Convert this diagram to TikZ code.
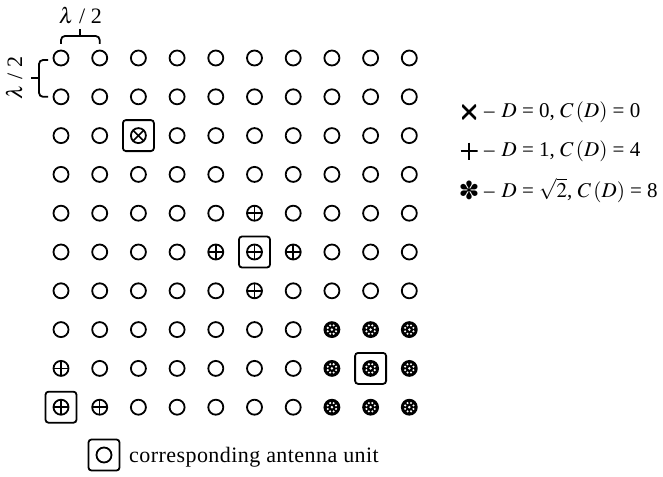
\documentclass[tikz,border=0pt]{standalone}
\usepackage{mathptmx}
\usepackage[no-math]{fontspec}
\setmainfont{Liberation Serif}
\newfontfamily\djv{DejaVu Sans}
\usetikzlibrary{calc}
\expandafter\def\csname ut@2-2\endcsname{crossu}
\expandafter\def\csname ut@5-4\endcsname{plusu}
\expandafter\def\csname ut@4-5\endcsname{plusu}
\expandafter\def\csname ut@5-5\endcsname{plusu}
\expandafter\def\csname ut@6-5\endcsname{plusu}
\expandafter\def\csname ut@5-6\endcsname{plusu}
\expandafter\def\csname ut@0-8\endcsname{plusu}
\expandafter\def\csname ut@0-9\endcsname{plusu}
\expandafter\def\csname ut@1-9\endcsname{plusu}
\expandafter\def\csname ut@7-7\endcsname{staru}
\expandafter\def\csname ut@8-7\endcsname{staru}
\expandafter\def\csname ut@9-7\endcsname{staru}
\expandafter\def\csname ut@7-8\endcsname{staru}
\expandafter\def\csname ut@8-8\endcsname{staru}
\expandafter\def\csname ut@9-8\endcsname{staru}
\expandafter\def\csname ut@7-9\endcsname{staru}
\expandafter\def\csname ut@8-9\endcsname{staru}
\expandafter\def\csname ut@9-9\endcsname{staru}
\tikzset{
  every node/.style={font=\fontsize{22}{26}\selectfont, inner sep=0pt},
  unit/.style={circle, draw, line width=1.8pt, minimum size=15pt, inner sep=0pt},
  plusu/.style={unit, path picture={\draw[line width=1.5pt]
      (path picture bounding box.north) -- (path picture bounding box.south)
      (path picture bounding box.west) -- (path picture bounding box.east);}},
  crossu/.style={unit, path picture={\draw[line width=1.5pt]
      (path picture bounding box.north west) -- (path picture bounding box.south east)
      (path picture bounding box.north east) -- (path picture bounding box.south west);}},
  staru/.style={unit, fill=black, path picture={
      \foreach \a in {0,45,...,315}{\fill[white] ([shift={(\a+22.5:4.5pt)}]path picture bounding box.center) circle (1.15pt);}
      \fill[white] (path picture bounding box.center) circle (1.4pt);}},
  selbox/.style={draw, line width=1.8pt, rounded corners=3pt, minimum size=31pt, inner sep=0pt},
  brk/.style={line width=1.8pt, rounded corners=4pt},
  legx/.style={minimum size=14pt, inner sep=0pt, path picture={\draw[line width=2.6pt]
      (path picture bounding box.north west) -- (path picture bounding box.south east)
      (path picture bounding box.north east) -- (path picture bounding box.south west);}},
  legp/.style={minimum size=17pt, inner sep=0pt, path picture={\draw[line width=2.6pt]
      (path picture bounding box.north) -- (path picture bounding box.south)
      (path picture bounding box.west) -- (path picture bounding box.east);}},
  legtxt/.style={anchor=west, font=\fontsize{21}{25}\selectfont},
}
\begin{document}
\begin{tikzpicture}[x=1pt,y=-1pt]
\useasboundingbox (0,0) rectangle (663,476);
% grid of antenna units
\foreach \j in {0,...,9}{
  \foreach \i in {0,...,9}{
    \ifcsname ut@\i-\j\endcsname \edef\ty{\csname ut@\i-\j\endcsname}\else\def\ty{unit}\fi
    \begingroup\edef\x{\endgroup\noexpand\node[\ty]}\x (u-\i-\j) at ({61+38.7*\i},{58+38.8*\j}) {};
  }
}
% selected units
\node[selbox] (b1) at (u-2-2) {};
\node[selbox] (b2) at (u-5-5) {};
\node[selbox] (b3) at (u-8-8) {};
\node[selbox] (b4) at (u-0-9) {};
% top bracket
\draw[brk] ($(u-0-0)+(0,-14)$) -- ($(u-0-0)+(0,-22)$) -- ($(u-1-0)+(0,-22)$) -- ($(u-1-0)+(0,-14)$);
\coordinate (tb) at ($(u-0-0)!0.5!(u-1-0)+(0,-22)$);
\draw[line width=1.8pt] (tb) -- ($(tb)+(0,-7)$);
\node (lt) at ($(tb)+(0,-21)$) {$\lambda$ / 2};
% left bracket
\draw[brk] ($(u-0-0)+(-13,2)$) -- ($(u-0-0)+(-22,2)$) -- ($(u-0-1)+(-22,0)$) -- ($(u-0-1)+(-13,0)$);
\coordinate (lb) at ($(u-0-0)!0.5!(u-0-1)+(-22,1)$);
\draw[line width=1.8pt] (lb) -- ($(lb)+(-8,0)$);
\node[rotate=90] (ll) at ($(lb)+(-25,0)$) {$\lambda$ / 2};
% legend right
\node[legx] (sx) at (469,112) {};
\node[legtxt] (tx) at (484,112) {–\,\,$D$ = 0, $C\,(D)$ = 0};
\node[legp] (sp) at (469,151) {};
\node[legtxt] (tp) at (484,151) {–\,\,$D$ = 1, $C\,(D)$ = 4};
\node (ss) at (469,190) {\djv\fontsize{25}{28}\selectfont ✽};
\node[legtxt] (ts) at (484,190) {–\,\,$D$ = $\sqrt{2}$, $C\,(D)$ = 8};
% legend bottom
\node[unit] (lu) at (104,455) {};
\node[selbox] (lub) at (lu) {};
\node[anchor=base west] (lut) at (129,462) {\addfontfeature{LetterSpace=2}corresponding antenna unit};
\end{tikzpicture}
\end{document}
